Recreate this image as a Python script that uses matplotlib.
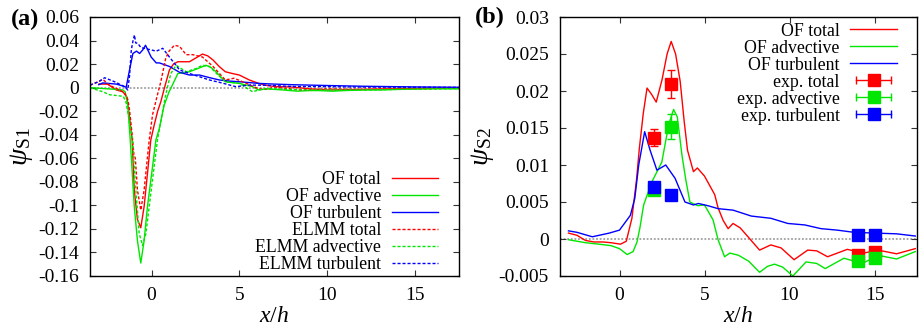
import matplotlib
matplotlib.use("Agg")
import matplotlib.pyplot as plt
from matplotlib.lines import Line2D
from matplotlib.legend_handler import HandlerLine2D, HandlerTuple

plt.rcParams['font.family'] = ['Liberation Serif', 'DejaVu Serif']
plt.rcParams['mathtext.fontset'] = 'custom'
plt.rcParams['mathtext.rm'] = 'Liberation Serif'
plt.rcParams['mathtext.it'] = 'Liberation Serif:italic'
plt.rcParams['axes.unicode_minus'] = False

# ---------------- panel (a) data ----------------
of_tot_x = [-3.0, -2.5, -2.0, -1.63, -1.4, -1.25, -1.1, -0.98, -0.8, -0.61, -0.42, -0.23, -0.04,
            0.15, 0.35, 0.53, 0.74, 1.02, 1.25, 1.5, 1.8, 2.16, 2.5, 2.9, 3.2, 3.5, 3.85, 4.2,
            4.6, 5.0, 5.57, 6.1, 6.5, 7.0, 8.0, 9.0, 10.0, 11.0, 12.0, 13.0, 14.0, 15.0, 16.0, 17.5]
of_tot_y = [0.003, 0.003, -0.002, -0.0035, -0.008, -0.025, -0.0445, -0.087, -0.112, -0.119,
            -0.101, -0.073, -0.0445, -0.032, -0.02, -0.012, 0.0, 0.015, 0.02, 0.022, 0.022,
            0.022, 0.025, 0.0285, 0.027, 0.0235, 0.018, 0.0135, 0.012, 0.0107, 0.0065, 0.0036,
            0.002, 0.001, 0.0005, -0.001, -0.002, -0.0018, -0.0015, -0.0012, -0.001, -0.0008,
            -0.0006, -0.0005]

of_adv_x = [-3.5, -3.0, -2.5, -2.0, -1.63, -1.5, -1.35, -1.21, -0.98, -0.8, -0.61, -0.42, -0.23,
            0.06, 0.25, 0.44, 0.72, 1.0, 1.12, 1.5, 2.16, 2.6, 3.1, 3.4, 3.67, 4.2, 5.0, 5.75,
            6.1, 6.5, 7.0, 7.5, 8.3, 9.0, 9.5, 10.3, 11.0, 12.0, 13.0, 14.0, 15.0, 16.0, 17.5]
of_adv_y = [0.0, -0.0005, -0.001, -0.0015, -0.002, -0.0035, -0.015, -0.0445, -0.101, -0.13,
            -0.149, -0.13, -0.101, -0.067, -0.0445, -0.035, -0.015, -0.0035, 0.0, 0.012,
            0.0135, 0.016, 0.019, 0.017, 0.0135, 0.005, 0.0036, 0.0008, -0.002, -0.001,
            -0.0015, -0.002, -0.003, -0.0025, -0.0025, -0.003, -0.0025, -0.002, -0.002,
            -0.0015, -0.0012, -0.001, -0.001]

of_turb_x = [-3.0, -2.77, -2.0, -1.63, -1.44, -1.25, -1.06, -0.85, -0.68, -0.5, -0.34, -0.02,
             0.27, 0.45, 1.02, 1.6, 2.16, 2.73, 3.3, 3.86, 4.5, 5.0, 6.1, 7.0, 8.0, 10.0,
             12.0, 15.0, 17.5]
of_turb_y = [0.0025, 0.004, 0.003, 0.0014, 0.0003, 0.015, 0.029, 0.031, 0.029, 0.032, 0.036,
             0.026, 0.021, 0.021, 0.018, 0.013, 0.0107, 0.0107, 0.0085, 0.0065, 0.0055, 0.005,
             0.0036, 0.003, 0.0025, 0.0018, 0.0012, 0.0006, 0.0003]

elmm_tot_x = [-3.5, -3.2, -2.77, -2.39, -1.82, -1.53, -1.34, -1.25, -1.1, -1.0, -0.92, -0.8,
              -0.61, -0.42, -0.23, -0.13, 0.06, 0.34, 0.53, 0.81, 1.0, 1.3, 1.6, 1.97, 2.35,
              2.9, 3.5, 4.2, 4.7, 5.4, 6.1, 6.5, 7.0, 8.5, 10.0, 12.0, 14.0, 17.5]
elmm_tot_y = [0.002, 0.004, 0.007, 0.002, -0.002, -0.0043, -0.0105, -0.019, -0.04, -0.057,
              -0.06, -0.087, -0.104, -0.087, -0.059, -0.0445, -0.023, -0.006, 0.005, 0.025,
              0.031, 0.036, 0.035, 0.028, 0.028, 0.026, 0.018, 0.0065, 0.008, 0.0036, -0.001,
              -0.0015, 0.0005, -0.002, -0.001, -0.0015, -0.001, -0.0005]

elmm_adv_x = [-3.5, -3.2, -2.77, -2.4, -1.82, -1.6, -1.44, -1.3, -1.08, -0.89, -0.7, -0.51,
              -0.32, -0.13, 0.15, 0.34, 0.63, 0.81, 0.9, 1.1, 1.4, 1.97, 2.5, 2.9, 3.3, 3.7,
              4.2, 5.0, 5.75, 6.1, 6.5, 7.0, 8.5, 10.0, 12.0, 14.0, 17.5]
elmm_adv_y = [0.0, -0.0015, -0.0035, -0.006, -0.007, -0.0075, -0.013, -0.025, -0.0445, -0.087,
              -0.124, -0.134, -0.124, -0.101, -0.067, -0.0445, -0.02, -0.006, 0.0, 0.012,
              0.019, 0.0135, 0.016, 0.019, 0.018, 0.012, 0.005, 0.0036, -0.0035, -0.002,
              -0.001, -0.001, -0.002, -0.002, -0.002, -0.0015, -0.0008]

elmm_turb_x = [-3.5, -3.0, -2.67, -2.1, -1.53, -1.35, -1.25, -1.15, -1.05, -0.97, -0.9, -0.78,
               -0.6, -0.3, 0.0, 0.27, 0.64, 1.02, 1.6, 2.16, 3.3, 4.0, 4.8, 5.57, 6.5, 8.0,
               10.0, 12.0, 17.5]
elmm_turb_y = [0.0022, 0.005, 0.0084, 0.005, 0.0008, -0.002, 0.01, 0.032, 0.04, 0.0447, 0.038,
               0.0376, 0.034, 0.033, 0.032, 0.031, 0.0334, 0.026, 0.015, 0.012, 0.0065, 0.004,
               0.0008, 0.0022, 0.002, 0.001, 0.0008, 0.0005, 0.0002]

a_yticks = [-0.16, -0.14, -0.12, -0.1, -0.08, -0.06, -0.04, -0.02, 0, 0.02, 0.04, 0.06]
a_ylabels = ['-0.16', '-0.14', '-0.12', '-0.1', '-0.08', '-0.06', '-0.04', '-0.02', '0',
             '0.02', '0.04', '0.06']

# ---------------- panel (b) data ----------------
b_tot_x = [-3.0, -2.5, -2.0, -1.5, -1.0, -0.5, 0.06, 0.4, 0.73, 1.0, 1.17, 1.4, 1.62, 1.9, 2.16,
           2.5, 2.8, 3.04, 3.3, 3.57, 3.8, 4.0, 4.35, 4.58, 5.0, 5.6, 5.8, 6.1, 6.39, 6.68, 7.1,
           7.56, 8.24, 8.9, 9.5, 10.27, 11.07, 11.6, 12.24, 13.4, 14.37, 15.2, 16.3, 17.4]
b_tot_y = [0.0008, 0.0005, -0.0002, -0.0004, -0.0004, -0.0005, -0.0007, -0.0003, 0.0028, 0.008,
           0.0123, 0.017, 0.0204, 0.0195, 0.0185, 0.0215, 0.025, 0.0267, 0.025, 0.0213, 0.016,
           0.012, 0.0091, 0.0096, 0.0085, 0.006, 0.0042, 0.0025, 0.0014, 0.0021, 0.0015,
           0.0003, -0.0015, -0.0008, -0.0012, -0.0028, -0.0015, -0.0016, -0.0024, -0.0014,
           -0.0019, -0.0015, -0.002, -0.0013]

b_adv_x = [-3.0, -2.0, -1.2, -0.5, 0.0, 0.45, 0.8, 1.03, 1.2, 1.42, 1.9, 2.49, 2.9, 3.18, 3.4,
           3.67, 3.9, 4.14, 4.6, 5.0, 5.5, 5.8, 6.18, 6.49, 7.0, 7.6, 8.24, 8.7, 9.12, 9.6, 10.2,
           10.97, 11.6, 12.1, 13.2, 14.3, 15.2, 16.3, 17.4]
b_adv_y = [-0.0001, -0.0005, -0.0007, -0.0009, -0.0013, -0.0021, -0.0017, -0.0004, 0.0015,
           0.0046, 0.0077, 0.0104, 0.0155, 0.0175, 0.0165, 0.0114, 0.008, 0.005, 0.0045, 0.0046,
           0.0026, -0.0001, -0.0024, -0.0019, -0.0022, -0.003, -0.0045, -0.0037, -0.0034,
           -0.0038, -0.005, -0.0031, -0.0033, -0.004, -0.0026, -0.0033, -0.0022, -0.0027,
           -0.0017]

b_turb_x = [-3.0, -2.5, -1.6, -0.6, 0.0, 0.64, 0.9, 1.13, 1.48, 1.8, 2.2, 2.72, 3.27, 3.85, 4.35,
            4.64, 5.2, 5.8, 6.68, 7.75, 8.9, 9.9, 10.9, 11.85, 12.8, 13.8, 15.0, 16.3, 17.4]
b_turb_y = [0.0011, 0.0009, 0.0003, 0.0008, 0.0012, 0.0032, 0.0055, 0.01, 0.0145, 0.012, 0.0093,
            0.01, 0.0082, 0.005, 0.0046, 0.0048, 0.0045, 0.0041, 0.0039, 0.0031, 0.0028, 0.0021,
            0.0019, 0.0014, 0.0012, 0.0009, 0.0008, 0.0007, 0.0004]

exp_x = [2, 3, 14, 15]
exp_tot = [0.0137, 0.021, -0.0022, -0.0017]
exp_tot_err = [0.0011, 0.0019, 0, 0]
exp_adv = [0.0066, 0.0152, -0.003, -0.0025]
exp_adv_err = [0.0007, 0.0017, 0, 0]
exp_turb = [0.007, 0.0059, 0.0006, 0.0005]
exp_turb_err = [0, 0, 0, 0]

b_yticks = [-0.005, 0, 0.005, 0.01, 0.015, 0.02, 0.025, 0.03]
b_ylabels = ['-0.005', '0', '0.005', '0.01', '0.015', '0.02', '0.025', '0.03']

RED = '#ff0000'
GREEN = '#00e600'
BLUE = '#0000ff'
DASH = (0, (2.2, 1.4))
LEG_FS = 12.8
LEG_SP = 0.0

fig = plt.figure(figsize=(9.19, 3.29), dpi=100)
ax1 = fig.add_axes([90 / 919, 53 / 329, 369 / 919, 259 / 329])
ax2 = fig.add_axes([560 / 919, 53 / 329, 357 / 919, 259 / 329])


def style_axes(ax):
    ax.set_xlim(-3.5, 17.5)
    ax.set_xticks([0, 5, 10, 15])
    ax.tick_params(direction='in', top=True, right=True, length=4, width=0.8,
                   labelsize=14, pad=8, color='#333333')
    for sp in ax.spines.values():
        sp.set_linewidth(1.0)
    ax.axhline(0, color='#a0a0a0', lw=1.3, ls=(0, (1, 1)), zorder=0)
    ax.set_xlabel(r'$x/h$', fontsize=17, labelpad=1)


# panel (a)
style_axes(ax1)
ax1.set_ylim(-0.16, 0.06)
ax1.set_yticks(a_yticks)
ax1.set_yticklabels(a_ylabels)
ax1.plot(of_tot_x, of_tot_y, color=RED, lw=1.0, label='OF total')
ax1.plot(of_adv_x, of_adv_y, color=GREEN, lw=1.0, label='OF advective')
ax1.plot(of_turb_x, of_turb_y, color=BLUE, lw=1.0, label='OF turbulent')
ax1.plot(elmm_tot_x, elmm_tot_y, color=RED, lw=1.0, ls=DASH, label='ELMM total')
ax1.plot(elmm_adv_x, elmm_adv_y, color=GREEN, lw=1.0, ls=DASH, label='ELMM advective')
ax1.plot(elmm_turb_x, elmm_turb_y, color=BLUE, lw=1.0, ls=DASH, label='ELMM turbulent')
ax1.set_ylabel(r'$\psi_{\mathrm{S1}}$', fontsize=20, labelpad=2)
ax1.legend(loc='lower right', bbox_to_anchor=(0.943, 0.012), frameon=False, markerfirst=False,
           fontsize=LEG_FS, handlelength=2.6, handletextpad=0.6, labelspacing=LEG_SP,
           borderpad=0, borderaxespad=0)
fig.text(11 / 919, 1 - 19 / 329, '(a)', fontsize=17.5, fontweight='bold', va='center')

# panel (b)
style_axes(ax2)
ax2.set_ylim(-0.005, 0.03)
ax2.set_yticks(b_yticks)
ax2.set_yticklabels(b_ylabels)
l1, = ax2.plot(b_tot_x, b_tot_y, color=RED, lw=1.0)
l2, = ax2.plot(b_adv_x, b_adv_y, color=GREEN, lw=1.0)
l3, = ax2.plot(b_turb_x, b_turb_y, color=BLUE, lw=1.0)
for y, e, c in [(exp_tot, exp_tot_err, RED), (exp_adv, exp_adv_err, GREEN),
                (exp_turb, exp_turb_err, BLUE)]:
    ax2.errorbar(exp_x, y, yerr=e, fmt='s', color=c, ms=8, elinewidth=1.0, capsize=3,
                 capthick=1.0, zorder=3)
ax2.set_ylabel(r'$\psi_{\mathrm{S2}}$', fontsize=20, labelpad=2)

handles = [l1, l2, l3]
hmap = {}
for c in [RED, GREEN, BLUE]:
    caps = Line2D([], [], color=c, lw=1.0, marker='|', ms=6, mew=1.0)
    sq = Line2D([], [], color=c, lw=0, marker='s', ms=8)
    hmap[caps] = HandlerLine2D(numpoints=2)
    hmap[sq] = HandlerLine2D(numpoints=1)
    handles.append((caps, sq))
hmap[tuple] = HandlerTuple(ndivide=1, pad=0)
labels = ['OF total', 'OF advective', 'OF turbulent', 'exp. total', 'exp. advective',
          'exp. turbulent']
ax2.legend(handles, labels, handler_map=hmap, loc='upper right', bbox_to_anchor=(0.943, 0.978),
           frameon=False, markerfirst=False, fontsize=LEG_FS, handlelength=2.6,
           handletextpad=0.6, labelspacing=LEG_SP, borderpad=0, borderaxespad=0)
fig.text(475 / 919, 1 - 17 / 329, '(b)', fontsize=17.5, fontweight='bold', va='center')

fig.savefig('out.png', dpi=100)
